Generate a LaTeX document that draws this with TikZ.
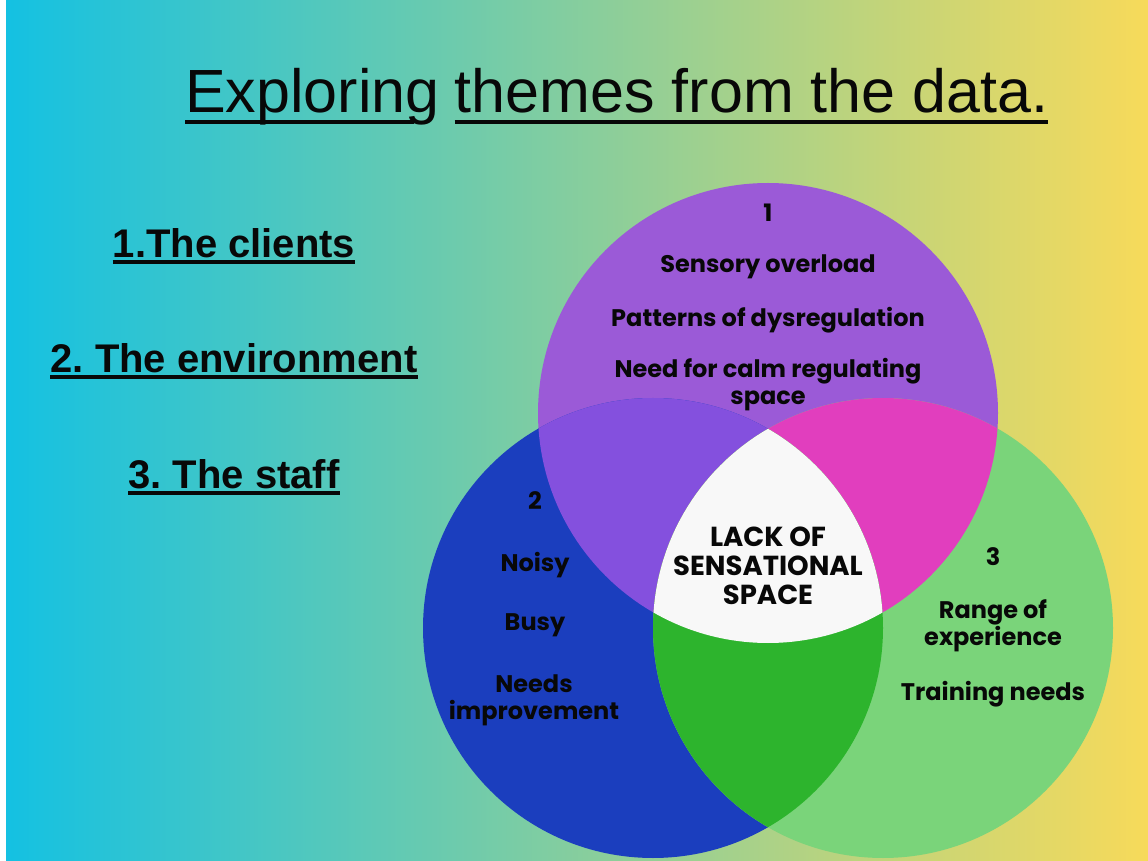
\documentclass[tikz,border=0pt]{standalone}
\usepackage{fontspec}
\setmainfont{Liberation Sans}
\newfontfamily\vennfont{Poppins}
\frenchspacing
\definecolor{bgcyan}{RGB}{20,193,226}
\definecolor{bgmint}{RGB}{128,206,162}
\definecolor{bgyellow}{RGB}{247,218,90}
\definecolor{clientpurple}{RGB}{155,90,215}
\definecolor{envblue}{RGB}{27,62,190}
\definecolor{staffgreen}{RGB}{122,212,122}
\definecolor{cevviolet}{RGB}{132,80,222}
\definecolor{csmagenta}{RGB}{225,62,190}
\definecolor{esgreen}{RGB}{45,180,45}
\definecolor{corewhite}{RGB}{248,248,248}
\definecolor{inkblack}{RGB}{8,8,8}

\begin{document}
\begin{tikzpicture}[x=1pt,y=1pt,line cap=butt,
	heading/.style={inner sep=0pt,anchor=base west,text=inkblack,font=\fontsize{61}{61}\selectfont},
	themeitem/.style={inner sep=0pt,anchor=base,text=inkblack,font=\bfseries\fontsize{40}{40}\selectfont},
	venntext/.style={inner sep=0pt,align=center,text=inkblack,font=\vennfont\bfseries\fontsize{24}{27}\selectfont},
	vennnum/.style={venntext,font=\vennfont\bfseries\fontsize{24}{24}\selectfont},
	coretext/.style={venntext,font=\vennfont\bfseries\fontsize{27.5}{29}\selectfont},
	underline/.style={draw=inkblack,line width=3.3pt}]
	\useasboundingbox (0,0) rectangle (1148,860);
	\fill[white] (0,0) rectangle (1148,860);
	\shade[left color=bgcyan,middle color=bgmint,right color=bgyellow] (6,0) rectangle (1148,860);

	\coordinate (clients) at (768,447);
	\coordinate (environment) at (653,232);
	\coordinate (staff) at (883,232);
	\fill[clientpurple] (clients) circle (230pt);
	\fill[envblue] (environment) circle (230pt);
	\fill[staffgreen] (staff) circle (230pt);
	\begin{scope}
		\clip (clients) circle (230pt);
		\fill[cevviolet] (environment) circle (230pt);
		\fill[csmagenta] (staff) circle (230pt);
	\end{scope}
	\begin{scope}
		\clip (environment) circle (230pt);
		\fill[esgreen] (staff) circle (230pt);
		\clip (staff) circle (230pt);
		\fill[corewhite] (clients) circle (230pt);
	\end{scope}

	\node[heading] (titleA) at (185,747) {Exploring};
	\node[heading] (titleB) at ([xshift=15pt]titleA.base east) {themes from the data.};
	\draw[underline,line width=4pt] ([yshift=-9.5pt]titleA.base west) -- ([xshift=-26pt,yshift=-9.5pt]titleA.base east);
	\draw[underline,line width=4pt] ([yshift=-9.5pt]titleB.base west) -- ([yshift=-9.5pt]titleB.base east);

	\node[themeitem] (item1) at (234,602) {1.The clients};
	\node[themeitem] (item2) at (234,487) {2. The environment};
	\node[themeitem] (item3) at (234,371) {3. The staff};
	\foreach \i in {1,2,3}
		\draw[underline] ([yshift=-4pt]item\i.base west) -- ([yshift=-4pt]item\i.base east);

	\node[vennnum] (num1) at (768,647) {1};
	\node[venntext] (sensory) at (768,593) {Sensory overload};
	\node[venntext] (patterns) at (768,540) {Patterns of dysregulation};
	\node[venntext] (calm) at (768,475) {Need for calm regulating\\space};

	\node[vennnum] (num2) at (535,359) {2};
	\node[venntext] (noisy) at (535,295) {Noisy};
	\node[venntext] (busy) at (535,235) {Busy};
	\node[venntext] (needs) at (534,160) {Needs\\improvement};

	\node[vennnum] (num3) at (993,303) {3};
	\node[venntext] (range) at (993,234) {Range of\\experience};
	\node[venntext] (training) at (993,166) {Training needs};

	\node[coretext] (core) at (768,294) {LACK OF\\SENSATIONAL\\SPACE};
\end{tikzpicture}
\end{document}
